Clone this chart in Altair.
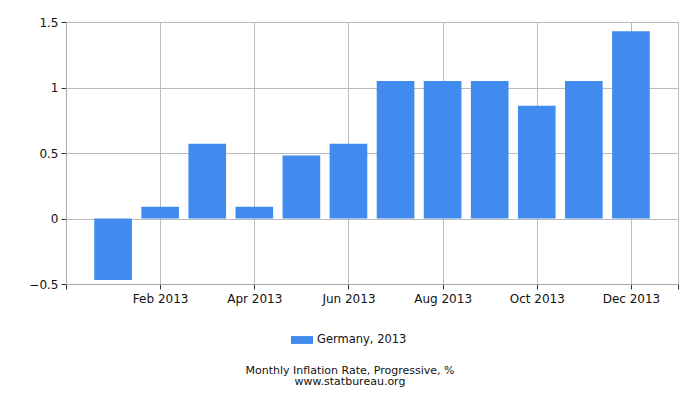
import altair as alt
import pandas as pd

months = ["Jan", "Feb", "Mar", "Apr", "May", "Jun", "Jul", "Aug", "Sep", "Oct", "Nov", "Dec"]
month_index = list(range(1, 13))
values = [-0.47, 0.09, 0.57, 0.09, 0.48, 0.57, 1.05, 1.05, 1.05, 0.86, 1.05, 1.43]
series_name = "Germany, 2013"
tick_values = [0, 2, 4, 6, 8, 10, 12, 13]
tick_labels = {2: "Feb 2013", 4: "Apr 2013", 6: "Jun 2013", 8: "Aug 2013", 10: "Oct 2013", 12: "Dec 2013"}
y_ticks = [-0.5, 0, 0.5, 1, 1.5]

df = pd.DataFrame({
    "month": months,
    "idx": month_index,
    "x0": [i - 0.4 for i in month_index],
    "x1": [i + 0.4 for i in month_index],
    "value": values,
    "series": [series_name] * 12,
})

label_expr = " : ".join(
    [f"datum.value == {k} ? '{v}'" for k, v in tick_labels.items()]
) + " : ''"

FONT = "DejaVu Sans"

chart = alt.Chart(df).mark_bar(color="#428bee").encode(
    x=alt.X("x0:Q",
            scale=alt.Scale(domain=[0, 13], nice=False, zero=False),
            axis=alt.Axis(values=tick_values, labelExpr=label_expr, title=None,
                          grid=True, gridColor="#bbbbbb", domainColor="#aaaaaa",
                          tickColor="#333333", tickSize=5, labelColor="#111111",
                          labelFontSize=12, labelFont=FONT, labelPadding=4,
                          labelOverlap=False)),
    x2="x1:Q",
    y=alt.Y("value:Q",
            scale=alt.Scale(domain=[-0.5, 1.5], nice=False),
            axis=alt.Axis(values=y_ticks, title=None, grid=True, gridColor="#bbbbbb",
                          domainColor="#aaaaaa", tickColor="#333333", tickSize=5,
                          labelColor="#111111", labelFontSize=12, labelFont=FONT,
                          labelPadding=3, format="~g")),
    y2=alt.datum(0),
    color=alt.Color("series:N",
                    scale=alt.Scale(range=["#428bee"]),
                    legend=alt.Legend(title=None, orient="none", legendX=225, legendY=307,
                                      symbolType="M-1,-0.36H1V0.36H-1Z", symbolSize=484,
                                      labelFont=FONT, labelFontSize=11.5, labelColor="#111111",
                                      labelOffset=4,
                                      symbolStrokeWidth=0, symbolOpacity=1)),
).properties(
    width=612,
    height=262,
    autosize=alt.AutoSizeParams(type="none"),
    padding={"left": 58, "top": 14, "right": 14, "bottom": 108},
    title=alt.TitleParams(["Monthly Inflation Rate, Progressive, %", "www.statbureau.org"],
                          orient="bottom", anchor="middle", font=FONT, fontSize=11,
                          fontWeight="normal", color="#111111", lineHeight=11, offset=19,
                          dx=-22),
).configure_view(stroke="#bbbbbb")

chart.save("out.html", embed_options={"renderer": "svg", "actions": False})
